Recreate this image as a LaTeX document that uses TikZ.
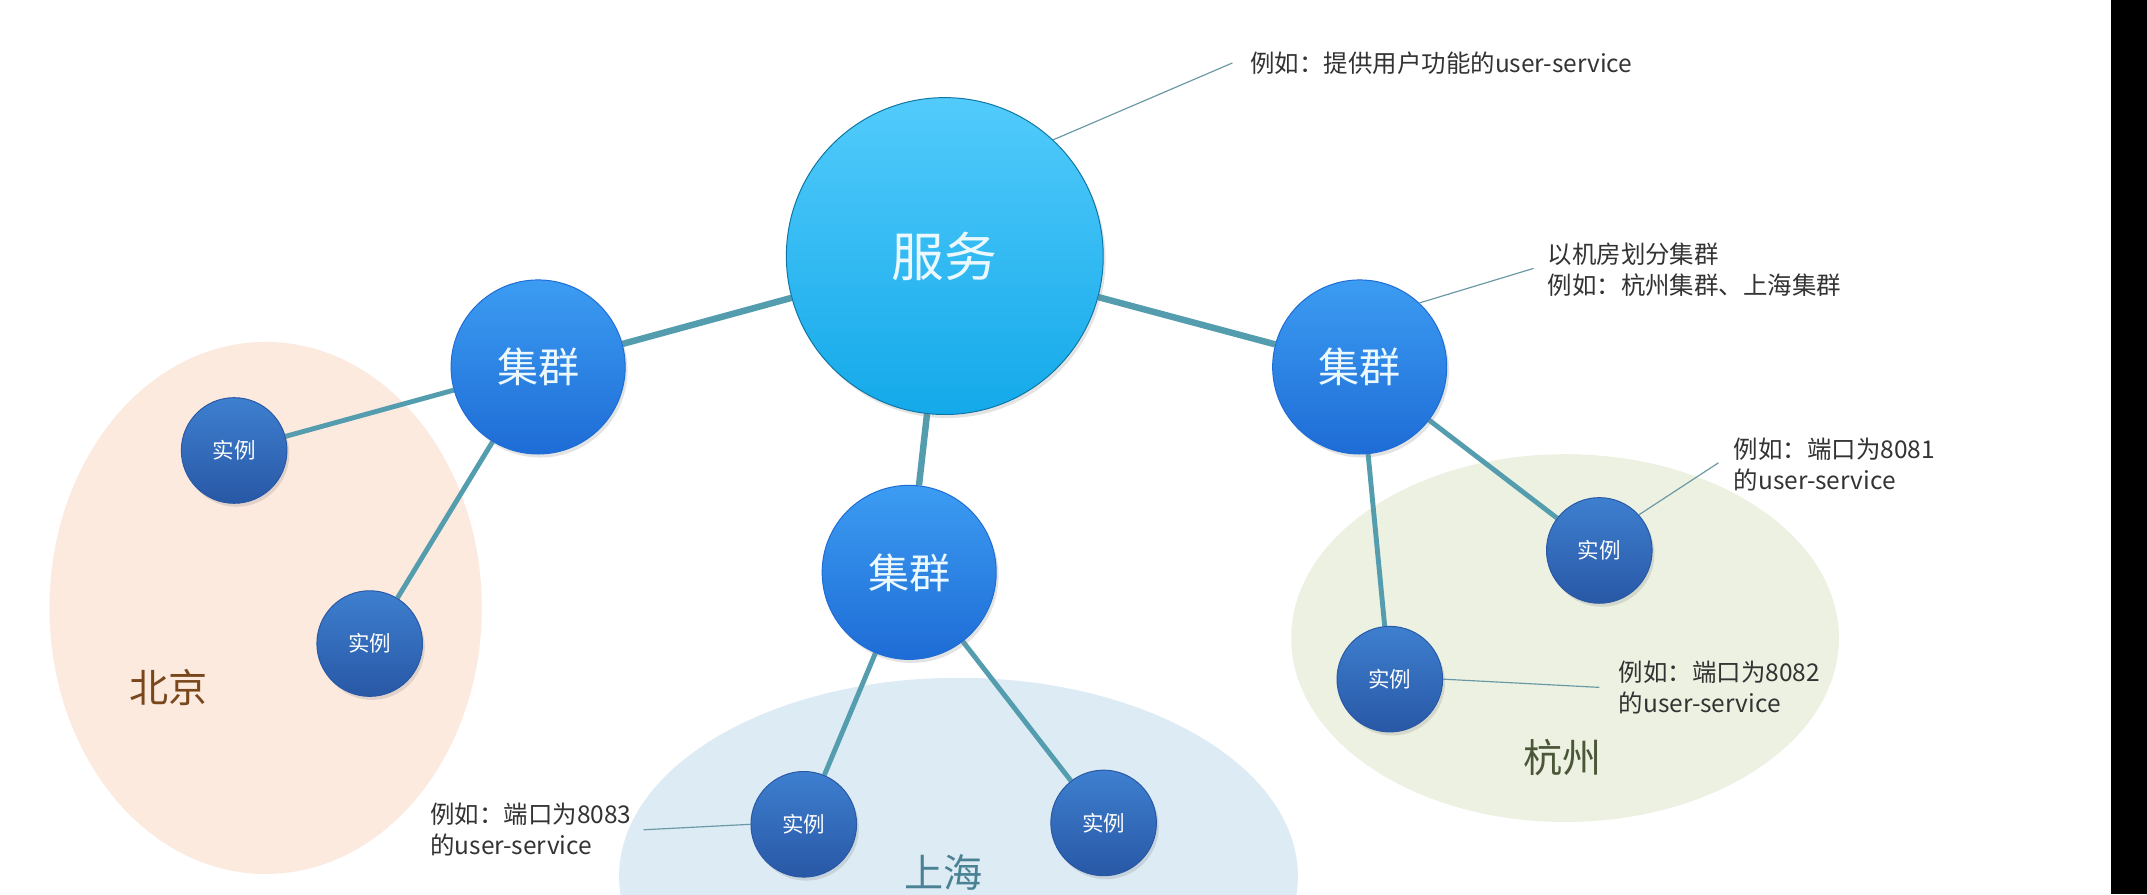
\documentclass[tikz,border=0pt]{standalone}
\usepackage{fontspec}
\setmainfont{Noto Sans CJK SC}
\usetikzlibrary{shadows,shapes.geometric}
\pgfdeclarelayer{paper}
\pgfdeclarelayer{regions}
\pgfdeclarelayer{links}
\pgfsetlayers{paper,regions,links,main}
\definecolor{svctop}{HTML}{52CBFB}
\definecolor{svcbot}{HTML}{14A9EA}
\definecolor{clutop}{HTML}{3C9CF2}
\definecolor{clubot}{HTML}{1E6CD6}
\definecolor{insttop}{HTML}{3E7FCF}
\definecolor{instbot}{HTML}{2858A6}
\definecolor{linkc}{HTML}{549DAE}
\definecolor{notec}{HTML}{6A98A6}
\definecolor{bjfill}{HTML}{FCEADF}
\definecolor{shfill}{HTML}{DCEBF4}
\definecolor{hzfill}{HTML}{ECF1E1}
\definecolor{bjtext}{HTML}{7A471C}
\definecolor{shtext}{HTML}{4A8294}
\definecolor{hztext}{HTML}{4B5738}
\definecolor{txt}{HTML}{333333}
\tikzset{
  bubble/.style={circle, inner sep=0pt, draw=#1, line width=0.5pt,
    drop shadow={opacity=0.22, shadow xshift=1.2pt, shadow yshift=-1.8pt}},
  svcnode/.style={bubble=svcbot!70!black, minimum size=162pt, top color=svctop, bottom color=svcbot,
    text=white!92!cyan, font=\fontsize{27}{30}\selectfont},
  clunode/.style={bubble=clubot, minimum size=89pt, top color=clutop, bottom color=clubot,
    text=white!92!cyan, font=\fontsize{21}{24}\selectfont},
  instnode/.style={bubble=instbot, minimum size=54pt, top color=insttop, bottom color=instbot,
    text=white, font=\fontsize{11}{13}\selectfont},
  trunk/.style={draw=linkc, line width=3.3pt},
  branch/.style={draw=linkc, line width=2.5pt},
  note/.style={draw=notec, line width=0.6pt},
  notetext/.style={anchor=west, align=left, text=txt, inner sep=0pt,
    font=\fontsize{12.5}{16}\selectfont},
  region/.style={ellipse, draw=none, inner sep=0pt},
  regionlabel/.style={font=\fontsize{20}{22}\selectfont, inner sep=0pt}
}
\begin{document}
\begin{tikzpicture}[x=0.7pt,y=-0.7pt]
\useasboundingbox (0,0) rectangle (1568,653);
\begin{pgfonlayer}{paper}
\fill[white] (0,0) rectangle (1568,653);
\end{pgfonlayer}

% regions
\begin{pgfonlayer}{regions}
\clip (0,0) rectangle (1568,653);
\node[region, fill=bjfill, minimum width=221pt, minimum height=272pt] (bj) at (194,444) {};
\node[region, fill=shfill, minimum width=347pt, minimum height=203pt] (sh) at (700,640) {};
\node[region, fill=hzfill, minimum width=280pt, minimum height=188pt] (hz) at (1143,466) {};
\end{pgfonlayer}

\node[regionlabel, text=bjtext] (bjl) at (123,502) {北京};
\node[regionlabel, text=shtext] (shl) at (689,637) {上海};
\node[regionlabel, text=hztext] (hzl) at (1141,553) {杭州};

% nodes
\node[svcnode] (svc) at (690,187) {服务};
\node[clunode] (c1) at (393,268) {集群};
\node[clunode] (c2) at (664,418) {集群};
\node[clunode] (c3) at (993,268) {集群};
\node[instnode] (i1) at (171,329) {实例};
\node[instnode] (i2) at (270,470) {实例};
\node[instnode] (i3) at (587,602) {实例};
\node[instnode] (i4) at (806,601) {实例};
\node[instnode] (i5) at (1168,402) {实例};
\node[instnode] (i6) at (1015,496) {实例};

% links
\begin{pgfonlayer}{links}
\draw[trunk] (svc) -- (c1);
\draw[trunk] (svc) -- (c3);
\draw[trunk] (svc) -- (c2);
\draw[branch] (c1) -- (i1);
\draw[branch] (c1) -- (i2);
\draw[branch] (c2) -- (i3);
\draw[branch] (c2) -- (i4);
\draw[branch] (c3) -- (i5);
\draw[branch] (c3) -- (i6);
\end{pgfonlayer}

% annotations
\node[notetext] (t1) at (913,46) {例如：提供用户功能的user-service};
\coordinate (p1) at (900,46);
\draw[note] (svc.47) -- (p1);

\node[notetext] (t2) at (1130,197) {以机房划分集群\\例如：杭州集群、上海集群};
\coordinate (p2) at (1120,196);
\draw[note] (c3.47) -- (p2);

\node[notetext] (t3) at (1266,339) {例如：端口为8081\\的user-service};
\coordinate (p3) at (1255,338);
\draw[note] (i5.42) -- (p3);

\node[notetext] (t4) at (1182,502) {例如：端口为8082\\的user-service};
\coordinate (p4) at (1168,502);
\draw[note] (i6.east) -- (p4);

\node[notetext] (t5) at (314,606) {例如：端口为8083\\的user-service};
\coordinate (p5) at (470,606);
\draw[note] (p5) -- (i3.west);

% right dark strip
\fill[black] (1542,0) rectangle (1568,653);
\end{tikzpicture}
\end{document}
